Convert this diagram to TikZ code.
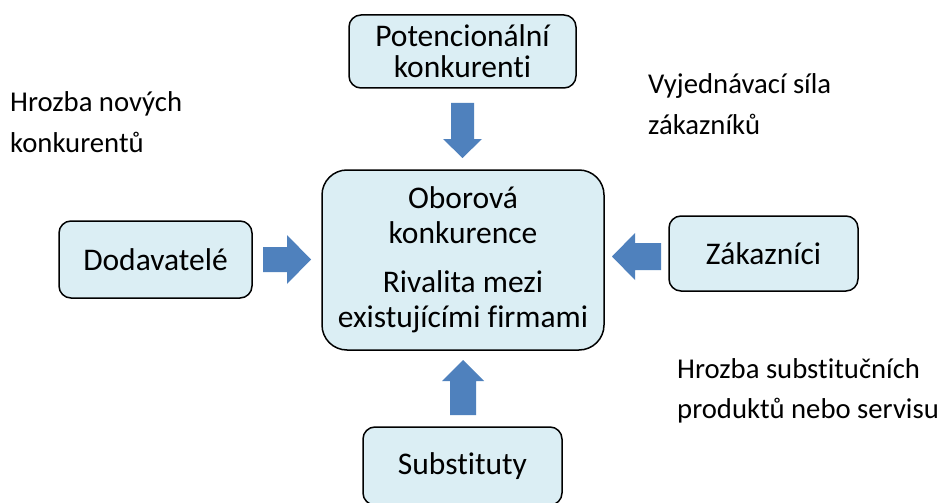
\documentclass[tikz,border=0pt]{standalone}
\usepackage{fontspec}
\setmainfont{Carlito}[Ligatures=NoCommon]
\definecolor{boxfill}{RGB}{219,238,244}
\definecolor{arrowblue}{RGB}{79,129,189}
\tikzset{
  forcebox/.style={draw=black, line width=1.5pt, fill=boxfill, rounded corners=12pt,
    align=center, inner sep=0pt, font=\fontsize{31.5}{31}\selectfont},
  blockarrow/.style={fill=arrowblue},
  note/.style={anchor=base west, inner sep=0pt, font=\fontsize{28.7}{28}\selectfont}
}
\begin{document}
\begin{tikzpicture}[x=1pt,y=-1pt]
\useasboundingbox (0,0) rectangle (946,503);
\fill[white] (0,0) rectangle (946,503);
\node[forcebox, minimum width=227pt, minimum height=73pt] (pot) at (462.5,51.5) {Potencionální\\konkurenti};
\node[forcebox, rounded corners=25pt, minimum width=282pt, minimum height=180pt,
  font=\fontsize{31.5}{35}\selectfont] (core) at (463,260)
  {Oborová\\konkurence\\[14pt]Rivalita mezi\\existujícími firmami};
\node[forcebox, minimum width=193pt, minimum height=77pt] (dod) at (155.5,259.5) {Dodavatelé};
\node[forcebox, minimum width=189pt, minimum height=75pt] (zak) at (763.5,253.5) {Zákazníci};
\node[forcebox, minimum width=199pt, minimum height=78pt] (sub) at (462.5,466) {Substituty};
% block arrows
\fill[blockarrow] (263,247) -- (287,247) -- (287,235) -- (311,259.5) -- (287,284) -- (287,272) -- (263,272) -- cycle;
\fill[blockarrow] (661,243) -- (635,243) -- (635,233) -- (612,256.5) -- (635,280) -- (635,270) -- (661,270) -- cycle;
\fill[blockarrow] (450,415) -- (450,381) -- (442,381) -- (463,360) -- (484,381) -- (476,381) -- (476,415) -- cycle;
\fill[blockarrow] (451,103) -- (474,103) -- (474,139) -- (482,139) -- (462.5,158) -- (443,139) -- (451,139) -- cycle;
% labels
\node[note] (n1a) at (10,112) {Hrozba nových};
\node[note] (n1b) at (10,152) {konkurentů};
\node[note] (n2a) at (648,94) {Vyjednávací síla};
\node[note] (n2b) at (648,134) {zákazníků};
\node[note] (n3a) at (677,378) {Hrozba substitučních};
\node[note] (n3b) at (677,418) {produktů nebo servisu};
\end{tikzpicture}
\end{document}
